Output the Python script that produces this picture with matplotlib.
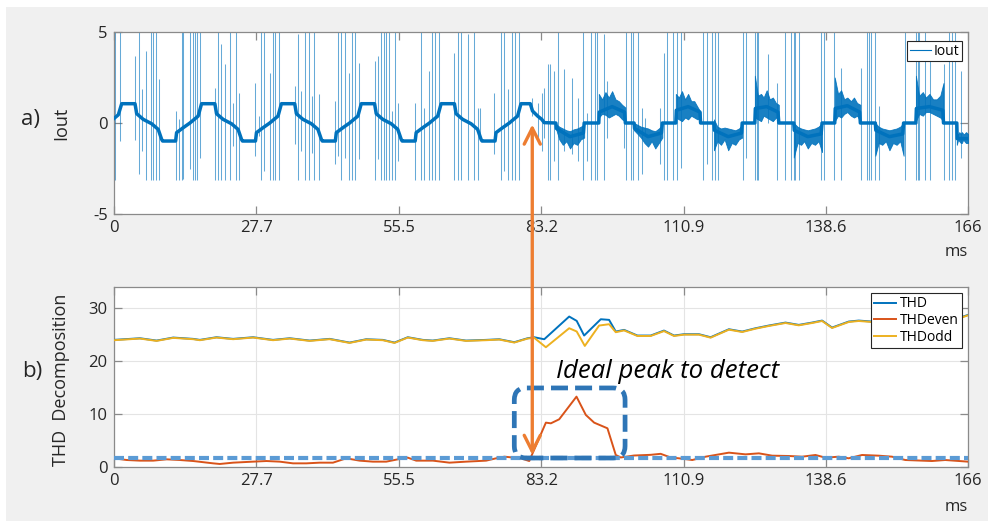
import numpy as np
import matplotlib
matplotlib.use('Agg')
import matplotlib.pyplot as plt
from matplotlib.patches import FancyBboxPatch, Rectangle, ConnectionPatch
from matplotlib.lines import Line2D
from matplotlib.transforms import IdentityTransform

plt.rcParams['font.family'] = ['Open Sans', 'DejaVu Sans']
plt.rcParams['axes.unicode_minus'] = False

# ---------------- data ----------------
xtick_vals = [0, 27.7, 55.5, 83.2, 110.9, 138.6, 166.3]
xtick_labels = ['0', '27.7', '55.5', '83.2', '110.9', '138.6', '166']

# Iout base waveform (ms, A)
wave_t = [0.0, 0.84, 1.50, 4.09, 4.42, 5.70, 7.33, 8.61, 9.28, 9.47,
          12.00, 12.19, 13.47, 14.78, 16.39, 17.05, 19.64, 19.97, 21.25, 22.88, 24.16, 24.83, 25.02,
          27.55, 27.74, 29.02, 30.33, 31.94, 32.60, 35.19, 35.52, 36.80, 38.43, 39.71, 40.38, 40.57,
          43.10, 43.29, 44.57, 45.88, 47.49, 48.15, 50.74, 51.07, 52.35, 53.98, 55.26, 55.93, 56.12,
          58.65, 58.84, 60.12, 61.43, 63.04, 63.70, 66.29, 66.62, 67.90, 69.53, 70.81, 71.48, 71.67,
          74.20, 74.39, 75.67, 76.98, 78.59, 79.25, 81.06, 81.50, 82.50, 83.30, 83.78,
          86.05, 86.15, 88.80, 91.40, 91.56,
          94.40, 94.50, 97.00, 99.40, 99.58,
          101.27, 101.37, 104.00, 106.60, 106.78,
          109.40, 109.50, 111.80, 114.10, 114.23,
          116.82, 116.92, 119.60, 122.20, 122.33,
          124.79, 124.89, 127.10, 129.30, 129.46,
          132.37, 132.47, 135.10, 137.70, 137.88,
          140.35, 140.45, 142.80, 145.20, 145.34,
          148.25, 148.35, 151.00, 153.60, 153.76,
          156.15, 156.25, 158.80, 161.40, 161.53,
          164.12, 164.20, 166.30]
wave_v = [0.25, 0.45, 1.06, 1.06, 0.51, 0.20, -0.04, -0.35, -0.90, -0.99,
          -0.99, -0.53, -0.26, 0.00, 0.38, 1.06, 1.06, 0.51, 0.20, -0.04, -0.35, -0.90, -0.99,
          -0.99, -0.53, -0.26, 0.00, 0.38, 1.06, 1.06, 0.51, 0.20, -0.04, -0.35, -0.90, -0.99,
          -0.99, -0.53, -0.26, 0.00, 0.38, 1.06, 1.06, 0.51, 0.20, -0.04, -0.35, -0.90, -0.99,
          -0.99, -0.53, -0.26, 0.00, 0.38, 1.06, 1.06, 0.51, 0.20, -0.04, -0.35, -0.90, -0.99,
          -0.99, -0.53, -0.26, 0.00, 0.38, 1.06, 1.06, 0.66, 0.38, 0.20, 0.02,
          0.00, -0.30, -0.75, -0.55, 0.00,
          0.00, 0.60, 0.90, 0.60, 0.00,
          0.00, -0.30, -0.75, -0.55, 0.00,
          0.00, 0.70, 0.90, 0.60, 0.00,
          0.00, -0.40, -0.75, -0.55, 0.00,
          0.00, 0.80, 0.90, 0.60, 0.00,
          0.00, -0.40, -0.75, -0.60, 0.00,
          0.00, 0.80, 0.95, 0.60, 0.00,
          0.00, -0.40, -0.75, -0.60, 0.00,
          0.00, 0.80, 0.90, 0.70, 0.00,
          0.00, -0.86, -0.86]

# noisy burst envelopes (second half), 9 samples per burst
burst_t = [[86.05, 86.7, 87.4, 88.1, 88.8, 89.5, 90.2, 90.9, 91.56],
           [94.40, 95.05, 95.7, 96.35, 97.0, 97.65, 98.3, 98.95, 99.58],
           [101.27, 101.95, 102.6, 103.3, 104.0, 104.7, 105.4, 106.1, 106.78],
           [109.40, 110.0, 110.6, 111.2, 111.8, 112.4, 113.0, 113.6, 114.23],
           [116.82, 117.5, 118.2, 118.9, 119.6, 120.3, 121.0, 121.7, 122.33],
           [124.79, 125.4, 126.0, 126.5, 127.1, 127.7, 128.3, 128.9, 129.46],
           [132.37, 133.1, 133.8, 134.4, 135.1, 135.8, 136.5, 137.2, 137.88],
           [140.35, 141.0, 141.6, 142.2, 142.8, 143.5, 144.1, 144.7, 145.34],
           [148.25, 148.9, 149.6, 150.3, 151.0, 151.7, 152.4, 153.1, 153.76],
           [156.15, 156.8, 157.5, 158.1, 158.8, 159.5, 160.2, 160.9, 161.53],
           [164.12, 164.4, 164.6, 164.9, 165.1, 165.4, 165.6, 165.9, 166.3]]
burst_lo = [[-0.3, -0.9, -1.2, -1.0, -1.4, -1.1, -1.2, -0.9, -0.8],
            [0.3, 0.5, 0.45, 0.3, 0.4, 0.5, 0.4, 0.2, 0.1],
            [-0.4, -0.6, -0.8, -1.1, -1.3, -1.0, -1.4, -1.1, -0.8],
            [0.3, 0.2, 0.1, 0.3, 0.2, 0.4, 0.3, 0.2, 0.3],
            [-1.5, -1.0, -1.2, -0.9, -1.5, -1.1, -1.2, -0.9, -0.8],
            [0.3, 0.2, 0.1, 0.4, 0.3, 0.2, 0.1, 0.3, 0.2],
            [-1.9, -1.1, -1.2, -1.0, -1.4, -1.1, -1.2, -1.0, -1.6],
            [0.1, 0.4, 0.3, 0.5, 0.6, 0.4, 0.3, 0.4, 0.1],
            [-1.8, -1.1, -1.2, -1.0, -1.5, -1.1, -1.2, -1.0, -1.8],
            [0.1, 0.5, 0.4, 0.6, 0.6, 0.5, 0.4, 0.3, 0.1],
            [-1.2, -0.9, -1.0, -1.1, -1.1, -0.9, -1.0, -1.1, -1.1]]
burst_hi = [[-0.05, -0.2, -0.3, -0.4, -0.45, -0.35, -0.3, -0.2, -0.1],
            [1.6, 1.3, 1.7, 1.4, 1.75, 1.3, 1.2, 1.0, 0.85],
            [0.0, -0.1, -0.2, -0.25, -0.3, -0.4, -0.45, -0.3, -0.1],
            [1.6, 1.4, 1.75, 1.3, 1.6, 1.2, 1.2, 0.9, 0.6],
            [0.2, -0.2, -0.3, -0.25, -0.3, -0.35, -0.4, -0.3, -0.1],
            [2.6, 1.5, 1.6, 1.4, 1.8, 1.3, 1.4, 1.1, 1.0],
            [0.0, -0.2, -0.3, -0.35, -0.4, -0.35, -0.3, -0.2, 0.0],
            [2.5, 1.6, 1.8, 1.3, 1.4, 1.2, 1.4, 1.1, 1.0],
            [0.0, -0.2, -0.3, -0.35, -0.4, -0.35, -0.3, -0.2, 0.0],
            [2.6, 1.5, 1.7, 1.4, 1.6, 1.3, 1.3, 1.5, 2.2],
            [-0.6, -0.6, -0.5, -0.6, -0.5, -0.6, -0.6, -0.5, -0.6]]

# switching spikes: time, lower end, upper end (upper ends > 5 are clipped)
spike_t = [0.19, 1.17, 4.08, 4.86, 5.51, 6.16, 7.13, 7.65, 8.16, 8.81,
           11.99, 12.63, 13.15, 13.48, 14.77, 15.29, 15.74, 16.07, 16.72, 19.76,
           20.28, 20.93, 21.58, 22.68, 23.20, 23.71, 24.36, 27.41, 28.19, 28.70,
           29.16, 30.32, 30.97, 31.42, 32.14, 35.31, 35.83, 36.48, 37.13, 37.97,
           38.55, 38.88, 39.91, 42.96, 43.61, 44.25, 44.90, 45.74, 46.39, 46.98,
           47.69, 50.73, 51.38, 52.03, 52.48, 53.00, 53.52, 54.10, 54.75,
           55.40, 58.64, 59.80, 60.45, 61.29, 61.88, 62.59, 63.24, 66.28, 66.93,
           67.58, 69.00, 70.17, 70.82, 71.34, 74.06, 75.35, 76.00, 76.65, 77.43,
           78.08, 78.79, 81.32, 82.48, 83.26, 83.78, 84.43, 84.94, 85.59, 86.37,
           87.67, 89.16, 90.26, 91.42, 92.07, 92.98, 93.63, 94.14, 95.44, 96.09,
           99.33, 99.78, 100.75, 101.14, 102.11, 102.76, 103.35, 106.26, 107.10, 107.75,
           108.92, 109.69, 110.34,
           114.75, 115.53, 116.37, 117.02, 117.66, 122.52, 122.98, 124.79, 125.12, 125.38,
           127.38, 129.13, 130.75, 131.92, 132.37, 132.70, 133.48, 137.75, 138.20, 140.15,
           141.64, 145.53, 146.63, 147.08, 147.47, 148.12, 148.89, 153.95, 156.15, 156.54,
           156.80, 157.97, 158.94, 161.53, 162.64, 163.15, 163.80, 164.97]
spike_lo = [-3.15, -0.99, -0.95, -2.82, -1.54, -3.15, -3.15, -3.15, -3.15, -3.15,
            -3.15, -3.15, -3.15, -3.10, -2.55, -3.15, -3.15, -3.15, -1.91, -3.15,
            -3.15, -3.15, -3.15, -3.15, -1.27, -3.15, -3.15, -1.81, -0.72, -3.15,
            -2.64, -3.15, -3.15, -3.15, -3.15, -1.17, -3.15, -1.54, -3.15, -3.15,
            -1.63, -3.15, -3.15, -2.27, -1.81, -3.15, -1.91, -3.15, -3.15, -3.15,
            -2.00, -3.15, -2.00, -3.15, -3.15, -3.15, -3.15, -3.15, -3.15,
            -2.09, -3.15, -3.15, -3.15, -3.15, -3.15, -3.15, -3.15, -3.15, -3.15,
            -3.15, -3.15, -3.15, -3.15, -0.72, -1.72, -3.15, -2.64, -3.15, -3.15,
            -3.15, -3.15, 0.38, -0.81, -1.54, -0.81, -3.15, -3.15, -2.09, -3.15,
            -1.54, -1.72, -2.09, -3.15, -2.09, -3.15, -3.15, -3.15, -3.15, -0.81,
            -1.36, -3.15, -3.15, -3.15, -3.15, -2.82, -0.72, -2.27, -3.15, -3.15,
            -3.15, -3.15, -2.46,
            -3.15, -2.27, -3.15, -3.15, -3.15, -3.15, -1.91, -3.15, -3.15, -3.15,
            0.02, -3.15, -3.15, -3.15, -3.15, -3.15, -3.15, -3.15, -3.15, -3.15,
            -3.15, -3.15, -3.15, -3.15, -3.15, -3.15, -3.15, -3.15, -3.15, -3.15,
            -3.15, -3.15, -3.15, -3.15, -3.15, -3.15, -3.15, -1.91]
spike_hi = [5.5, 5.5, 3.68, 5.5, 1.85, 3.95, 5.5, 5.5, 5.5, 2.40,
            0.66, 0.20, 5.5, 5.5, 5.5, 5.5, 5.5, 5.5, 5.5, 1.94,
            5.5, 4.32, 3.22, 5.5, 1.12, 5.5, 1.66, 2.21, 0.38, 5.5,
            5.5, 2.76, 5.5, 5.5, 5.5, 2.03, 4.87, 1.76, 5.5, 5.5,
            1.48, 5.5, 1.57, 1.21, 5.5, 5.5, 5.5, 2.76, 5.5, 5.5,
            3.31, 3.40, 3.68, 5.5, 5.5, 5.5, 5.5, 0.66, 5.5,
            1.12, 1.12, 5.5, 0.84, 2.86, 5.5, 5.5, 5.5, 3.86, 5.5,
            5.5, 4.87, 5.5, 0.84, 0.84, 1.66, 5.5, 5.5, 1.85, 5.5,
            5.5, 5.5, 1.39, 1.12, 1.66, 1.94, 3.22, 3.22, 2.86, 5.5,
            2.95, 2.49, 1.39, 5.5, 0.57, 5.5, 5.5, 5.5, 4.87, 2.31,
            0.57, 5.5, 5.5, 5.5, 5.5, 0.84, 0.29, 0.84, 3.86, 5.5,
            5.5, 5.5, 5.5,
            5.5, 5.5, 5.5, 5.5, 5.5, 5.5, 5.5, 5.5, 5.5, 5.5,
            3.77, 2.21, 5.5, 5.5, 5.5, 5.5, 5.5, 5.5, 5.5, 5.5,
            3.04, 3.04, 5.5, 5.5, 5.5, 5.5, 0.93, 5.5, 5.5, 5.5,
            5.5, 5.5, 3.40, 3.22, 5.5, 5.5, 5.5, 2.86]

# THD decomposition
thd_t = [0, 5.05, 8.29, 11.53, 15.42, 16.72, 19.96, 23.20, 27.08, 30.97, 34.21, 38.10,
         41.99, 45.87, 49.11, 52.35, 54.62, 57.21, 60.13, 62.07, 65.31, 68.55, 72.44, 75.03,
         77.95, 80.54, 81.83, 83.78, 88.64, 90.10, 91.55, 94.79, 96.41, 97.71, 99.33, 101.92,
         104.51, 107.10, 109.05, 110.99, 113.91, 116.18, 119.74, 122.33, 124.93, 127.52, 130.76,
         133.35, 135.94, 137.89, 139.83, 143.07, 145.02, 147.61, 150.5, 153.7, 157.0, 160.2,
         163.0, 164.77, 166.3]
thd_v = [24.01, 24.32, 23.88, 24.45, 24.20, 24.01, 24.51, 24.20, 24.51, 24.01, 24.32, 23.88,
         24.20, 23.50, 24.13, 24.01, 23.50, 24.51, 24.01, 23.88, 24.32, 23.88, 24.01, 24.13,
         23.57, 24.32, 24.51, 24.13, 28.42, 27.6, 24.83, 27.91, 27.79, 25.58, 25.90, 24.83,
         24.83, 25.77, 24.83, 25.08, 25.08, 24.51, 26.02, 25.58, 26.21, 26.72, 27.28,
         26.84, 27.28, 27.66, 26.34, 27.47, 27.66, 27.47, 27.6, 27.5, 27.8, 27.9,
         28.0, 28.22, 28.73]
even_t = [0, 2.46, 5.05, 7.64, 10.24, 12.83, 15.42, 19.31, 20.60, 23.20, 27.08, 29.68,
          32.27, 34.86, 37.46, 40.05, 42.64, 45.23, 47.83, 50.42, 53.01, 56.25, 57.23, 58.85,
          62.09, 65.33, 68.57, 72.46, 74.41, 76.01, 79.25, 80.86, 84.10, 85.07, 86.69, 90.06,
          91.88, 93.50, 96.09, 97.71, 98.68, 101.27, 104.51, 106.45, 108.40, 110.02, 112.61,
          115.21, 119.74, 122.98, 125.58, 128.17, 131.41, 134.00, 136.60, 138.54, 141.13,
          143.07, 145.67, 148.91, 151.50, 154.09, 159.28, 161.87, 166.3]
even_v = [1.64, 1.32, 1.20, 1.20, 1.45, 1.32, 1.13, 0.69, 0.57, 0.82, 1.01, 1.13,
          1.01, 0.69, 0.69, 0.82, 0.82, 1.64, 1.20, 1.01, 1.01, 1.64, 1.76, 1.20,
          1.20, 0.82, 1.01, 1.20, 1.64, 1.95, 1.64, 1.13, 8.38, 8.25, 9.01, 13.29,
          9.83, 8.38, 7.31, 2.27, 1.80, 2.17, 2.30, 2.49, 1.80, 1.64, 1.32,
          1.95, 2.71, 2.39, 2.58, 2.14, 2.08, 1.95, 2.27, 1.76, 1.95,
          1.64, 2.27, 2.14, 1.95, 1.32, 1.13, 1.32, 1.01]
odd_t = [0, 5.05, 8.29, 11.53, 15.42, 16.72, 19.96, 23.20, 27.08, 30.97, 34.21, 38.10,
         41.99, 45.87, 49.11, 52.35, 54.62, 57.21, 60.13, 62.07, 65.31, 68.55, 72.44, 75.03,
         77.95, 80.54, 81.83, 84.10, 88.64, 90.10, 91.68, 94.47, 96.41, 97.71, 99.33, 101.92,
         104.51, 107.10, 109.05, 110.99, 113.91, 116.18, 119.74, 122.33, 124.93, 127.52, 130.76,
         133.35, 135.94, 137.89, 139.83, 143.07, 145.02, 147.61, 150.5, 153.7, 157.0, 160.2,
         163.0, 164.77, 166.3]
odd_v = [23.95, 24.26, 23.82, 24.39, 24.14, 23.95, 24.45, 24.14, 24.45, 23.95, 24.26, 23.82,
         24.14, 23.44, 24.07, 23.95, 23.44, 24.45, 23.95, 23.82, 24.26, 23.82, 23.95, 24.07,
         23.51, 24.26, 24.40, 22.62, 26.21, 25.6, 22.87, 26.72, 26.97, 25.46, 25.80, 24.75,
         24.75, 25.67, 24.75, 25.0, 25.0, 24.43, 25.94, 25.5, 26.13, 26.64, 27.2,
         26.76, 27.2, 27.58, 26.26, 27.39, 27.58, 27.39, 27.5, 27.4, 27.7, 27.8,
         27.9, 28.14, 28.65]

# annotation anchors (data units)
threshold = 1.75
box_t = [77.95, 99.52]
box_thd = [1.70, 14.93]
arrow_t = 81.45
arrow_top_i = -0.08
arrow_bot_thd = 2.27

# ---------------- figure ----------------
W, H = 995, 524
fig = plt.figure(figsize=(W / 100, H / 100), dpi=100)
fig.patch.set_facecolor('white')
fig.add_artist(Rectangle((6 / W, 3 / H), 982 / W, 514 / H, transform=fig.transFigure,
                         facecolor='#f0f0f0', edgecolor='none', zorder=-10))


def px_axes(l, t, r, b):
    return [l / W, 1 - b / H, (r - l) / W, (b - t) / H]


ax1 = fig.add_axes(px_axes(114, 32, 968, 214))
ax2 = fig.add_axes(px_axes(114, 287, 968, 467))

BLUE, RED, YEL = '#0072BD', '#D95319', '#EDB120'
TXT = '#262626'
for ax in (ax1, ax2):
    ax.set_facecolor('white')
    for s in ax.spines.values():
        s.set_color('#8a8a8a')
        s.set_linewidth(0.9)
    ax.tick_params(direction='in', length=6, width=0.9, color='#8a8a8a', labelsize=12,
                   labelcolor=TXT, top=True, right=True, pad=4.5)
    ax.set_xlim(0, 166.3)
    ax.set_xticks(xtick_vals, xtick_labels)

# ---- top: Iout ----
ax1.set_ylim(-5, 5)
ax1.set_yticks([-5, 0, 5])
ax1.vlines(spike_t, spike_lo, spike_hi, color=BLUE, lw=0.75, alpha=0.6, zorder=2)
for bt, lo, hi in zip(burst_t, burst_lo, burst_hi):
    ax1.fill_between(bt, lo, hi, color=BLUE, lw=0.6, alpha=0.9, zorder=3)
ax1.plot(wave_t, wave_v, color=BLUE, lw=2.5, zorder=4)
leg1 = ax1.legend(handles=[Line2D([], [], color=BLUE, lw=0.8)], labels=['Iout'],
                  loc='upper right', bbox_to_anchor=(0.993, 0.951), borderaxespad=0,
                  fontsize=10, fancybox=False, edgecolor=TXT, framealpha=1,
                  handlelength=1.5, handletextpad=0.2, borderpad=0.2)
leg1.get_frame().set_linewidth(0.8)
ax1.text(1.0, -0.21, 'ms', transform=ax1.transAxes, ha='right', va='center',
         fontsize=12, color=TXT)
ax1.text(-0.062, 0.5, 'Iout', transform=ax1.transAxes, rotation=90, ha='center',
         va='center', fontsize=13, color=TXT)

# ---- bottom: THD ----
ax2.set_ylim(0, 34)
ax2.set_yticks([0, 10, 20, 30])
ax2.grid(True, color='#e4e4e4', lw=0.8)
ax2.set_axisbelow(True)
ax2.plot(thd_t, thd_v, color=BLUE, lw=1.4, label='THD', zorder=3)
ax2.plot(even_t, even_v, color=RED, lw=1.4, label='THDeven', zorder=3)
ax2.plot(odd_t, odd_v, color=YEL, lw=1.4, label='THDodd', zorder=3)
ax2.axhline(threshold, color='#5b9bd5', lw=3, dashes=(2.4, 1.0), zorder=5)
leg2 = ax2.legend(loc='upper right', bbox_to_anchor=(0.993, 0.967), borderaxespad=0,
                  fontsize=10, fancybox=False, edgecolor=TXT, framealpha=1,
                  handlelength=1.6, handletextpad=0.25, labelspacing=0.12, borderpad=0.25)
leg2.get_frame().set_linewidth(0.8)
leg2.set_zorder(8)
ax2.text(1.0, -0.222, 'ms', transform=ax2.transAxes, ha='right', va='center',
         fontsize=12, color=TXT)
ax2.text(-0.062, 0.483, 'THD  Decomposition', transform=ax2.transAxes, rotation=90,
         ha='center', va='center', fontsize=13, color=TXT)
ax2.text(86.1, 16.8, 'Ideal peak to detect', fontsize=18.5, style='italic',
         va='baseline', ha='left', color='black', zorder=7)

fig.text(31 / W, 1 - 120 / H, 'a)', fontsize=16, ha='center', va='center', color=TXT)
fig.text(32 / W, 1 - 371 / H, 'b)', fontsize=16, ha='center', va='center', color=TXT)

# dashed rounded box (rounded in pixel space)
(x0, y0) = ax2.transData.transform((box_t[0], box_thd[0]))
(x1, y1) = ax2.transData.transform((box_t[1], box_thd[1]))
box = FancyBboxPatch((x0, y0), x1 - x0, y1 - y0,
                     boxstyle='round,pad=0,rounding_size=12',
                     transform=IdentityTransform(), fill=False, ec='#2e75b6',
                     lw=3.4, linestyle=(0, (3.6, 1.5)), zorder=9)
fig.add_artist(box)

# double arrow linking the two panels
con = ConnectionPatch(xyA=(arrow_t, arrow_top_i), coordsA=ax1.transData,
                      xyB=(arrow_t, arrow_bot_thd), coordsB=ax2.transData,
                      arrowstyle='<->,head_length=1.15,head_width=0.58', mutation_scale=10,
                      color='#ed7d31', lw=2.4, zorder=10)
fig.add_artist(con)

fig.savefig('out.png', dpi=100)
